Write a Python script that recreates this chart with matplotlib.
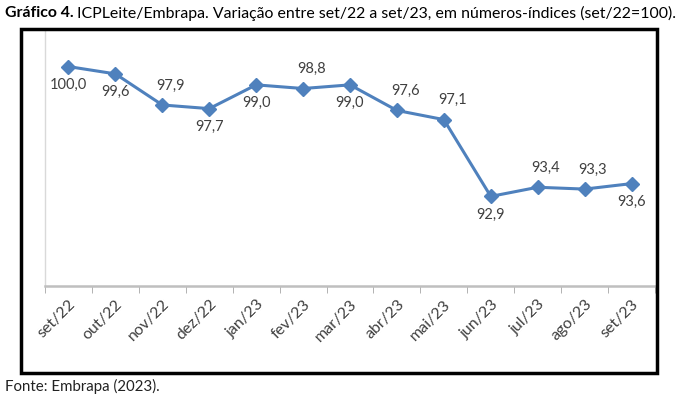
import matplotlib
matplotlib.use("Agg")
import matplotlib.pyplot as plt
from matplotlib.patches import Rectangle

plt.rcParams['font.family'] = ['Lato', 'DejaVu Sans']

months = ["set/22", "out/22", "nov/22", "dez/22", "jan/23", "fev/23", "mar/23",
          "abr/23", "mai/23", "jun/23", "jul/23", "ago/23", "set/23"]
values = [100.0, 99.6, 97.9, 97.7, 99.0, 98.8, 99.0, 97.6, 97.1, 92.9, 93.4, 93.3, 93.6]
# where each data label sits: 1 above, -1 below
label_side = [-1, -1, 1, -1, -1, 1, -1, 1, 1, -1, 1, 1, -1]

W, H = 678, 399
fig = plt.figure(figsize=(W / 100, H / 100), dpi=100)

def fx(px):
    return px / W

def fy(py):
    return 1 - py / H

ax = fig.add_axes([fx(45), fy(286), fx(655) - fx(45), fy(30) - fy(286)])
x = list(range(len(months)))
ax.plot(x, values, color="#4F81BD", lw=2.2, marker="D", ms=7, mec="#4F81BD", mfc="#4F81BD")

for xi, v, side in zip(x, values, label_side):
    lab = f"{v:.1f}".replace(".", ",")
    if side > 0:
        ax.annotate(lab, (xi, v), xytext=(6, 9), textcoords="offset points",
                    ha="center", va="bottom", fontsize=10.5, color="#404040")
    else:
        ax.annotate(lab, (xi, v), xytext=(0, -8), textcoords="offset points",
                    ha="center", va="top", fontsize=10.5, color="#404040")

ax.set_xlim(-0.5, len(months) - 0.5)
ax.set_ylim(88, 102)
ax.set_xticks(x)
ax.set_xticklabels(months, rotation=45, ha="right", rotation_mode="anchor",
                   fontsize=11.5, color="#404040")
ax.tick_params(axis="x", which="major", length=0, pad=8)
ax.set_xticks([i - 0.5 for i in range(len(months) + 1)], minor=True)
ax.tick_params(axis="x", which="minor", length=5, color="#a6a6a6", direction="out")
ax.set_yticks([])
for s in ["top", "right"]:
    ax.spines[s].set_visible(False)
ax.spines["bottom"].set_color("#bfbfbf")
ax.spines["bottom"].set_linewidth(1.8)
ax.spines["left"].set_color("#d9d9d9")
ax.spines["left"].set_linewidth(1.0)
ax.patch.set_alpha(0)

# black frame around the chart
fig.patches.append(Rectangle((fx(21), fy(373)), fx(657) - fx(21), fy(29) - fy(373),
                             transform=fig.transFigure, fill=False, ec="black", lw=2.5))

# title: bold part + regular part
t1 = fig.text(fx(5), fy(13), "Gráfico 4.", fontsize=11.4, fontweight="bold",
              va="center", ha="left", color="black")
fig.canvas.draw()
bb = t1.get_window_extent()
fig.text(bb.x1 / W + fx(3), fy(13),
         "ICPLeite/Embrapa. Variação entre set/22 a set/23, em números-índices (set/22=100).",
         fontsize=11.4, va="center", ha="left", color="black")

fig.text(fx(5), fy(386), "Fonte: Embrapa (2023).", fontsize=10.8, va="center", ha="left",
         color="#222222")

fig.savefig("out.png", dpi=100)
